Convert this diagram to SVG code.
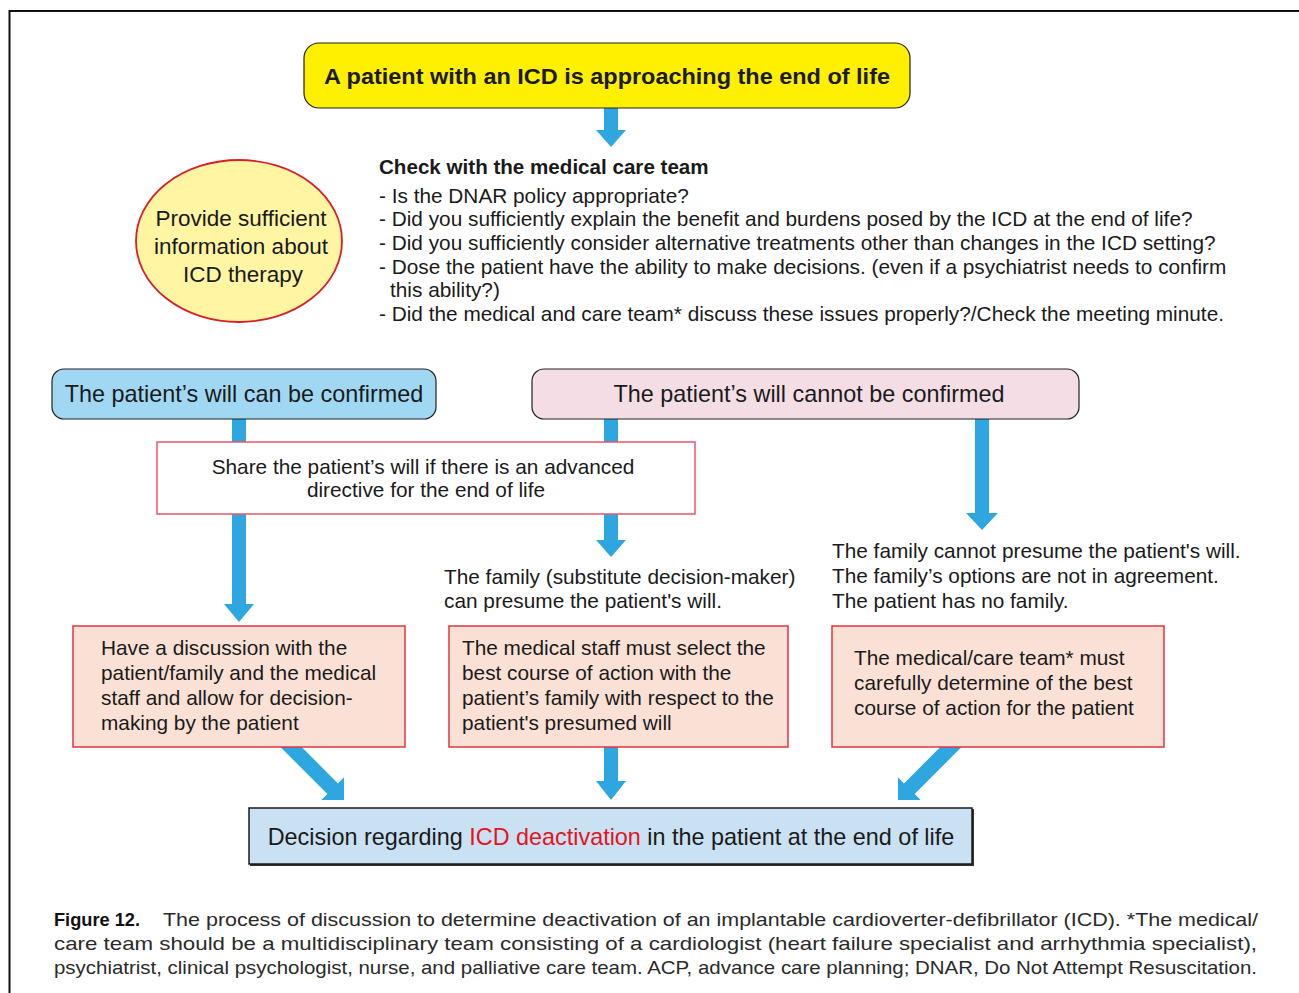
<svg xmlns="http://www.w3.org/2000/svg" width="1299" height="993" viewBox="0 0 1299 993">
  <style>
    text { font-family: "Liberation Sans", Arial, sans-serif; fill: #1a1a1a; }
    .body { font-size: 20.8px; }
    .big { font-size: 23.4px; }
    .bold { font-weight: bold; }
    .mid { text-anchor: middle; }
    .arrow { fill: #2ea7e0; }
    .step { fill: #fae0d5; stroke: #e2343f; stroke-width: 1.5; }
    .cap { font-size: 19px; fill: #2a2a2a; }
  </style>

  <rect width="1299" height="993" fill="#ffffff"/>
  <!-- page frame -->
  <path d="M9.5,993 V11 H1299" fill="none" stroke="#111" stroke-width="2"/>

  <!-- connectors (drawn first so boxes sit on top of the shafts) -->
  <g id="connectors">
    <polygon class="arrow" points="604,108 618,108 618,130 626,130 611,147 596,130 604,130"/>
    <polygon class="arrow" points="232,419 246,419 246,604 254,604 239,622 224,604 232,604"/>
    <polygon class="arrow" points="604,419 618,419 618,540 626,540 611,557 596,540 604,540"/>
    <polygon class="arrow" points="975,419 989,419 989,513 998,513 982,530 966,513 975,513"/>
    <polygon class="arrow" points="604,740 618,740 618,781 626,781 611,800 596,781 604,781"/>
    <polygon class="arrow" transform="translate(344,800) rotate(-45)" points="-7.5,-100 7.5,-100 7.5,-16 16,-16 0,0 -16,-16 -7.5,-16"/>
    <polygon class="arrow" transform="translate(898,800) rotate(45)" points="-7.5,-100 7.5,-100 7.5,-16 16,-16 0,0 -16,-16 -7.5,-16"/>
  </g>

  <g id="start">
    <rect x="304" y="43" width="606" height="65" rx="15" fill="#fff000" stroke="#222" stroke-width="1.2"/>
    <text class="bold mid" x="607" y="84" font-size="22" textLength="566" lengthAdjust="spacingAndGlyphs">A patient with an ICD is approaching the end of life</text>
  </g>

  <g id="info">
    <ellipse cx="239" cy="241" rx="103" ry="81" fill="#fff5a3" stroke="#d71f2b" stroke-width="1.8"/>
    <text class="mid" x="241" y="226" font-size="22.5">Provide sufficient</text>
    <text class="mid" x="241" y="254" font-size="22.5">information about</text>
    <text class="mid" x="243" y="282" font-size="22.5">ICD therapy</text>
  </g>

  <g id="check">
    <text class="bold" x="379" y="174" font-size="20.6">Check with the medical care team</text>
    <text class="body" x="379" y="203">- Is the DNAR policy appropriate?</text>
    <text class="body" x="379" y="226">- Did you sufficiently explain the benefit and burdens posed by the ICD at the end of life?</text>
    <text class="body" x="379" y="250">- Did you sufficiently consider alternative treatments other than changes in the ICD setting?</text>
    <text class="body" x="379" y="274">- Dose the patient have the ability to make decisions. (even if a psychiatrist needs to confirm</text>
    <text class="body" x="390" y="297">this ability?)</text>
    <text class="body" x="379" y="321">- Did the medical and care team* discuss these issues properly?/Check the meeting minute.</text>
  </g>

  <g id="confirmed">
    <rect x="52" y="369" width="384" height="50" rx="12" fill="#a0d8f4" stroke="#222" stroke-width="1.2"/>
    <text class="big mid" x="244" y="402">The patient’s will can be confirmed</text>
  </g>

  <g id="not-confirmed">
    <rect x="532" y="369" width="547" height="50" rx="12" fill="#f5dde6" stroke="#222" stroke-width="1.2"/>
    <text class="big mid" x="809" y="402">The patient’s will cannot be confirmed</text>
  </g>

  <g id="share">
    <rect x="157" y="442" width="538" height="72" fill="#ffffff" stroke="#e8576a" stroke-width="1.5"/>
    <text class="body mid" x="423" y="474">Share the patient’s will if there is an advanced</text>
    <text class="body mid" x="426" y="497">directive for the end of life</text>
  </g>

  <g id="presume">
    <text class="body" x="444" y="584">The family (substitute decision-maker)</text>
    <text class="body" x="444" y="608">can presume the patient's will.</text>
  </g>

  <g id="cannot-presume">
    <text class="body" x="832" y="558">The family cannot presume the patient's will.</text>
    <text class="body" x="832" y="583">The family’s options are not in agreement.</text>
    <text class="body" x="832" y="608">The patient has no family.</text>
  </g>

  <g id="discuss">
    <rect class="step" x="73" y="626" width="332" height="121"/>
    <text class="body" x="101" y="655">Have a discussion with the</text>
    <text class="body" x="101" y="680">patient/family and the medical</text>
    <text class="body" x="101" y="705">staff and allow for decision-</text>
    <text class="body" x="101" y="730">making by the patient</text>
  </g>

  <g id="staff-select">
    <rect class="step" x="449" y="626" width="339" height="121"/>
    <text class="body" x="462" y="655">The medical staff must select the</text>
    <text class="body" x="462" y="680">best course of action with the</text>
    <text class="body" x="462" y="705">patient’s family with respect to the</text>
    <text class="body" x="462" y="730">patient's presumed will</text>
  </g>

  <g id="team-determine">
    <rect class="step" x="832" y="626" width="332" height="121"/>
    <text class="body" x="854" y="665">The medical/care team* must</text>
    <text class="body" x="854" y="690">carefully determine of the best</text>
    <text class="body" x="854" y="715">course of action for the patient</text>
  </g>

  <g id="decision">
    <rect x="250" y="809" width="724" height="57" fill="#333"/>
    <rect x="249" y="808" width="723" height="56" fill="#c9e1f3" stroke="#1a1a1a" stroke-width="1.5"/>
    <text class="big mid" x="611" y="845">Decision regarding <tspan fill="#e3141e">ICD deactivation</tspan> in the patient at the end of life</text>
  </g>

  <g id="caption">
    <text class="cap" x="54" y="926"><tspan font-weight="bold" fill="#111" textLength="86" lengthAdjust="spacingAndGlyphs">Figure 12.</tspan></text>
    <text class="cap" x="163" y="926" textLength="1095" lengthAdjust="spacingAndGlyphs">The process of discussion to determine deactivation of an implantable cardioverter-defibrillator (ICD). *The medical/</text>
    <text class="cap" x="54" y="950" textLength="1203" lengthAdjust="spacingAndGlyphs">care team should be a multidisciplinary team consisting of a cardiologist (heart failure specialist and arrhythmia specialist),</text>
    <text class="cap" x="54" y="974" textLength="1203" lengthAdjust="spacingAndGlyphs">psychiatrist, clinical psychologist, nurse, and palliative care team. ACP, advance care planning; DNAR, Do Not Attempt Resuscitation.</text>
  </g>
</svg>
